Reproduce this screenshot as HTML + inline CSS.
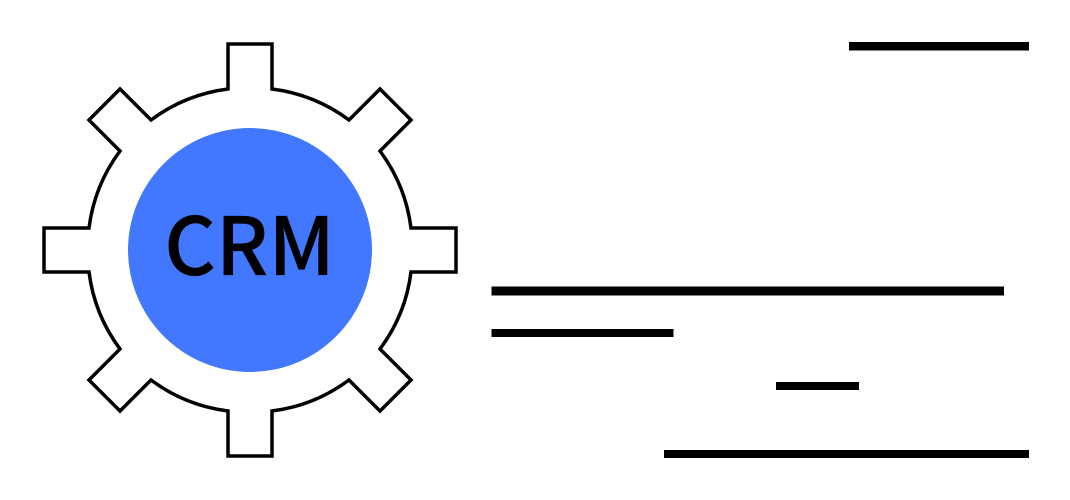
<!DOCTYPE html>
<html>
<head>
<meta charset="utf-8">
<style>
html,body{margin:0;padding:0;background:#fff;width:1070px;height:500px;overflow:hidden}
svg{display:block}
</style>
</head>
<body>
<svg width="1070" height="500" viewBox="0 0 1070 500" xmlns="http://www.w3.org/2000/svg">
<rect width="1070" height="500" fill="#fff"/>
<path d="M228 44H272V89A163 163 0 0 1 349 120L380 89L411 120L380 151A163 163 0 0 1 411 228H456V272H411A163 163 0 0 1 380 349L411 380L380 411L349 380A163 163 0 0 1 272 411V456H228V411A163 163 0 0 1 151 380L120 411L89 380L120 349A163 163 0 0 1 89 272H44V228H89A163 163 0 0 1 120 151L89 120L120 89L151 120A163 163 0 0 1 228 89Z" fill="#fff" stroke="#000" stroke-width="3.5" stroke-miterlimit="10"/>
<circle cx="250" cy="250" r="122" fill="#4178ff"/>
<text x="249.5" y="275" text-anchor="middle" font-family="'Noto Sans CJK JP','Liberation Sans',sans-serif" font-size="80" font-weight="500" fill="#000" stroke="#000" stroke-width="0.25">CRM</text>
<rect x="849" y="42" width="180" height="8.5" fill="#000"/>
<rect x="491.5" y="286.5" width="512.5" height="9" fill="#000"/>
<rect x="491.5" y="329" width="182" height="8" fill="#000"/>
<rect x="776" y="382" width="83" height="8" fill="#000"/>
<rect x="664" y="450" width="365" height="8" fill="#000"/>
</svg>
</body>
</html>
